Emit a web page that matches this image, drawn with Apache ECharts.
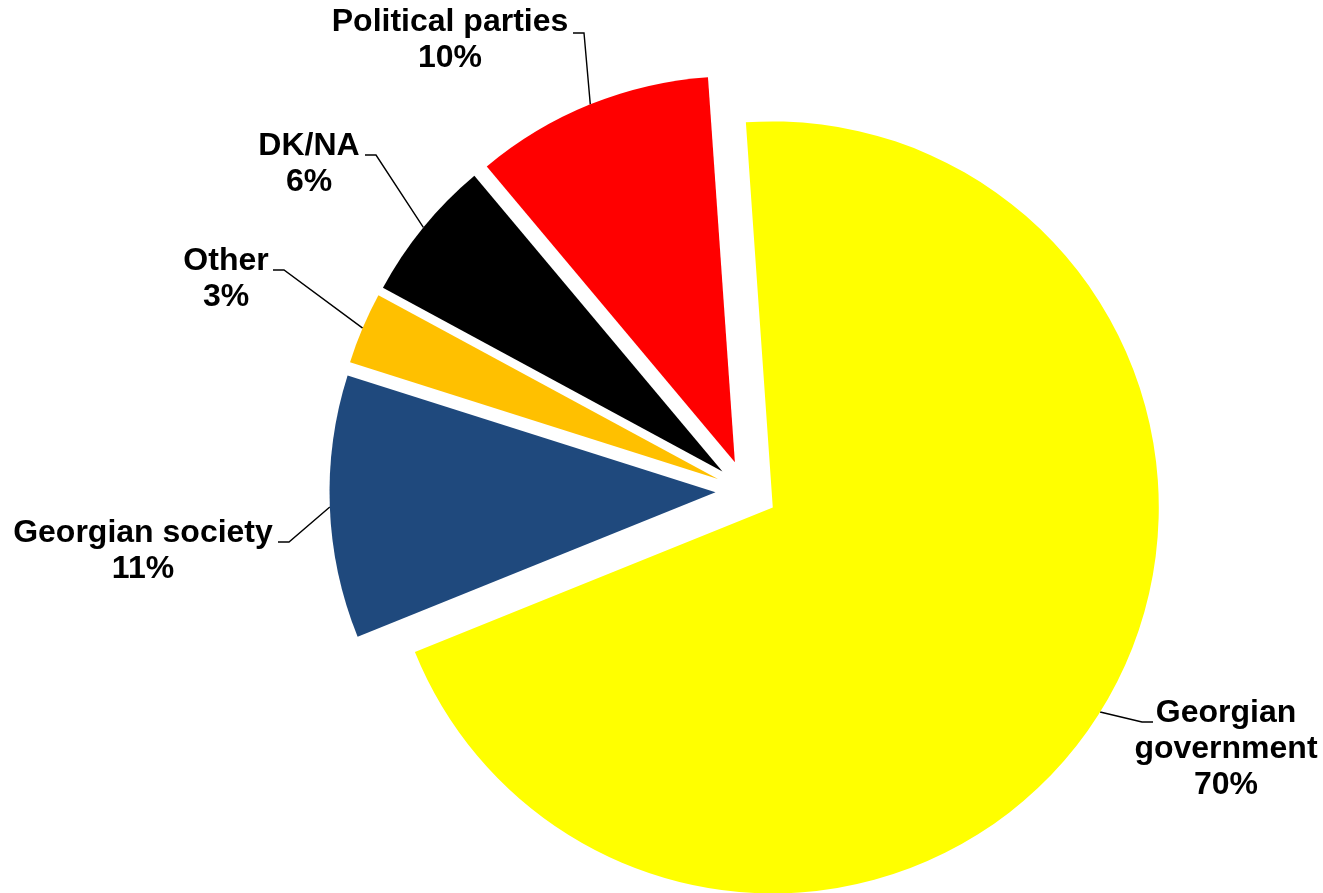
<!DOCTYPE html>
<html>
<head>
<meta charset="utf-8">
<script src="https://cdn.jsdelivr.net/npm/echarts@6/dist/echarts.min.js"></script>
<style>
  html, body { margin: 0; padding: 0; background: #ffffff; }
  #chart { width: 1323px; height: 893px; }
</style>
</head>
<body>
<div id="chart"></div>
<script>
// Who is responsible — shares of answers, in percent
const categories = ['Georgian government', 'Georgian society', 'Other', 'DK/NA', 'Political parties'];
const shares = [70, 11, 3, 6, 10];
const sliceColors = ['#FFFF00', '#1F497D', '#FFC000', '#000000', '#FF0000'];

// Label placement: centre of each text block, and where its leader line ends
const labelCentres = [[1226, 749], [143, 551], [226, 279], [309, 164], [450, 40]];
const leaderEnds = [[1153, 722], [278, 542], [273, 270], [365, 155], [573, 33]];

const pieCentre = [746.5, 491];
const pieRadius = 386;
const explode = 31;
const startAngle = 94;

const chart = echarts.init(document.getElementById('chart'), null, { renderer: 'canvas' });

const pieData = categories.map((name, i) => ({ name, value: shares[i] }));

chart.setOption({
  animation: false,
  backgroundColor: '#ffffff',
  series: [
    {
      // exploded slices
      type: 'pie',
      center: pieCentre,
      radius: pieRadius,
      startAngle: startAngle,
      clockwise: true,
      selectedMode: 'multiple',
      selectedOffset: explode,
      emphasis: { disabled: true },
      label: { show: false },
      labelLine: { show: false },
      data: pieData.map((d, i) => ({
        name: d.name,
        value: d.value,
        selected: true,
        itemStyle: { color: sliceColors[i] }
      }))
    },
    {
      // labels with leader lines, placed around the exploded slices
      type: 'pie',
      center: pieCentre,
      radius: pieRadius,
      startAngle: startAngle,
      clockwise: true,
      silent: true,
      avoidLabelOverlap: false,
      emphasis: { disabled: true },
      itemStyle: { color: 'rgba(0,0,0,0)' },
      data: pieData,
      label: {
        show: true,
        position: 'outside',
        color: '#000000',
        fontFamily: '"Liberation Sans", Arial, sans-serif',
        fontWeight: 'bold',
        fontSize: 32,
        lineHeight: 36,
        align: 'center',
        formatter: p => (p.dataIndex === 0 ? p.name.replace(' ', '\n') : p.name) + '\n' + p.value + '%'
      },
      labelLine: {
        show: true,
        length: 20,
        length2: 12,
        lineStyle: { color: '#000000', width: 1.4 }
      },
      labelLayout: function (params) {
        const i = params.dataIndex;
        const p0 = params.labelLinePoints[0];
        const dx = p0[0] - pieCentre[0];
        const dy = p0[1] - pieCentre[1];
        const len = Math.sqrt(dx * dx + dy * dy);
        const start = [p0[0] + dx / len * explode, p0[1] + dy / len * explode];
        const end = leaderEnds[i];
        const side = end[0] > pieCentre[0] ? -1 : 1;
        const elbow = [end[0] + side * 11, end[1]];
        return {
          x: labelCentres[i][0],
          y: labelCentres[i][1],
          align: 'center',
          verticalAlign: 'middle',
          labelLinePoints: [start, elbow, end]
        };
      }
    }
  ]
});
</script>
</body>
</html>
